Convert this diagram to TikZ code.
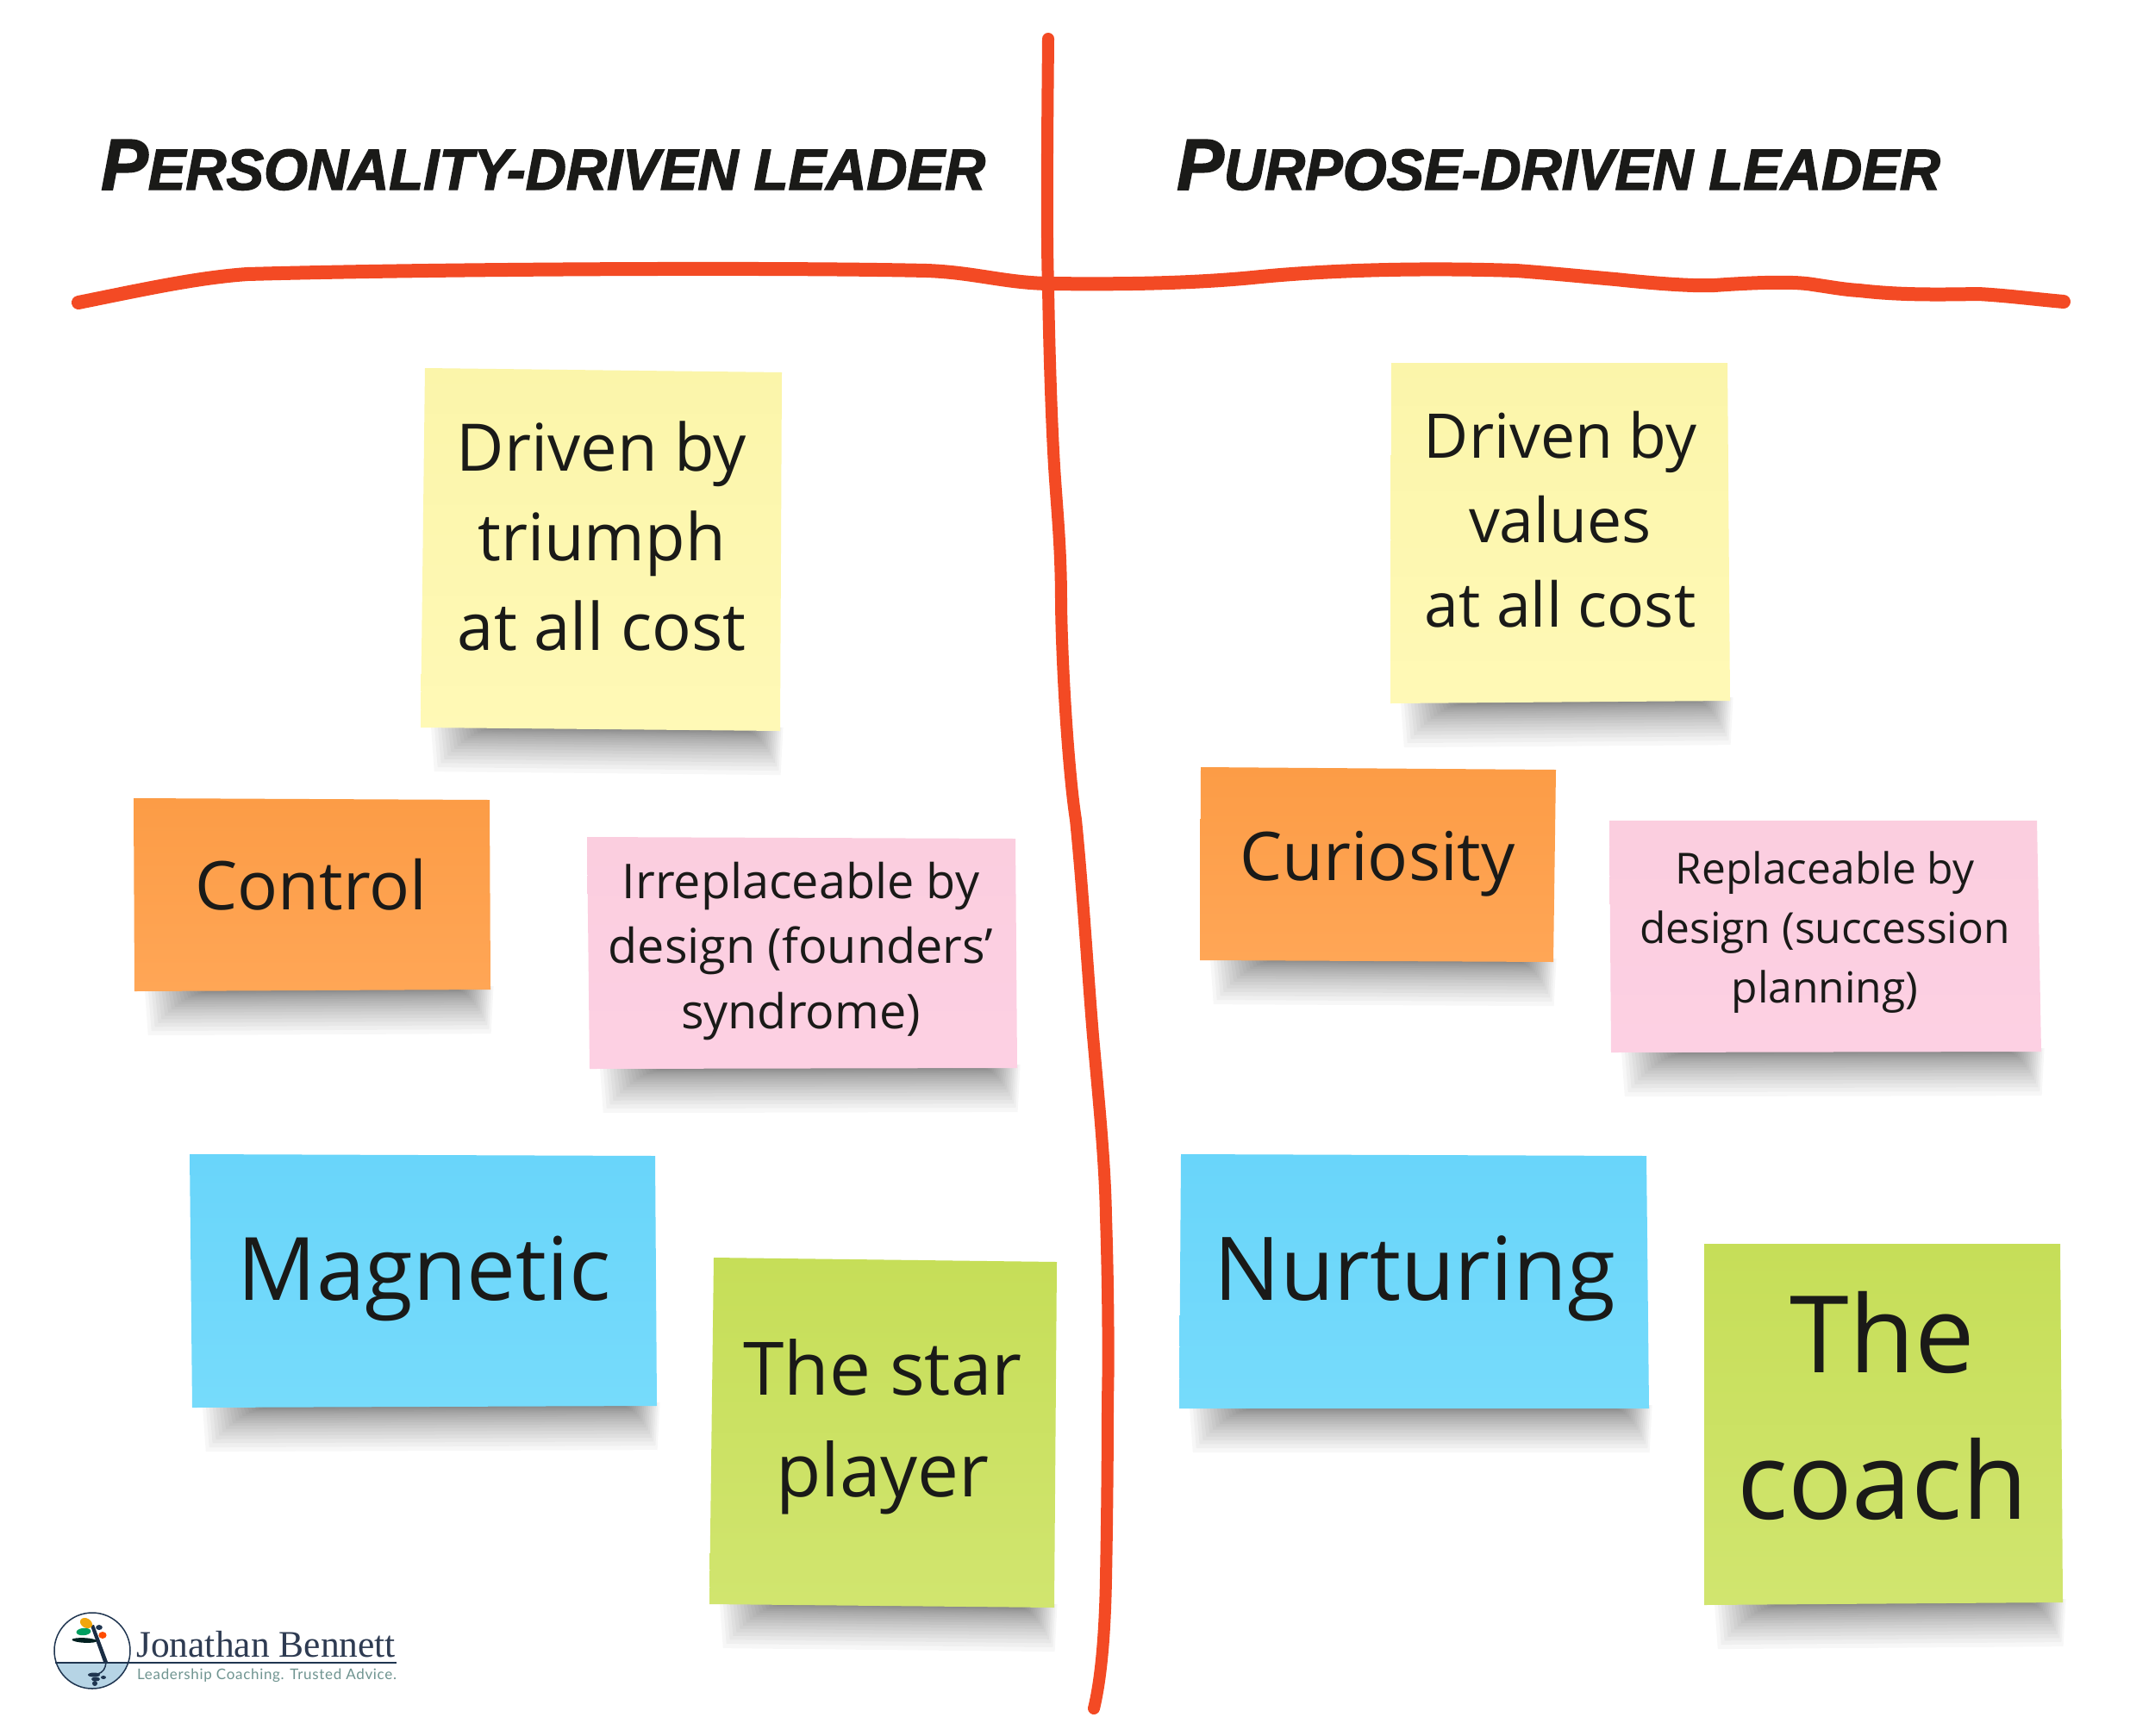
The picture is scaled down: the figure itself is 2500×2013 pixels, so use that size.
\documentclass[tikz,border=0pt]{standalone}
\usepackage{fontspec}
\setmainfont{Open Sans}
\newfontfamily\titlefont[FakeStretch=0.975,FakeBold=2]{Liberation Sans Bold Italic}
\newfontfamily\logoserif{Liberation Serif}
\newfontfamily\logosans[LetterSpace=4]{Lato}
\usetikzlibrary{calc}
\definecolor{redline}{HTML}{F34A24}
\definecolor{ink}{HTML}{1A1A18}
\definecolor{yelT}{HTML}{FBF5AA}\definecolor{yelB}{HTML}{FFF9B6}
\definecolor{oraT}{HTML}{FC9C46}\definecolor{oraB}{HTML}{FFA656}
\definecolor{pinT}{HTML}{FBCEDF}\definecolor{pinB}{HTML}{FDD0E3}
\definecolor{bluT}{HTML}{69D5FA}\definecolor{bluB}{HTML}{76DBFB}
\definecolor{griT}{HTML}{C6DE58}\definecolor{griB}{HTML}{D1E56F}
\definecolor{logoNavy}{HTML}{1F3550}
\definecolor{logoText}{HTML}{2E3B52}
\definecolor{logoSub}{HTML}{6F9490}
\definecolor{logoWater}{HTML}{B6D4E5}
\tikzset{
  pen/.style={draw=redline,line width=#1,line cap=round,line join=round},
  pen/.default=16pt,
  heading/.style={anchor=base west,inner sep=0pt,text=ink},
  notetext/.style={anchor=base,inner sep=0pt,align=center,text=ink},
  soft/.style={fill=black,fill opacity=0.032,draw=none}
}
\newcommand{\fs}[2]{\fontsize{#1}{#2}\selectfont}
% name, tl, tr, br, bl, colour stem, x and last baseline, font, text
\newcommand{\stickynote}[9]{%
  \coordinate (#1tl) at (#2);\coordinate (#1tr) at (#3);
  \coordinate (#1br) at (#4);\coordinate (#1bl) at (#5);
  \foreach \i in {1,...,18}{%
    \pgfmathsetmacro{\dd}{0.5*\i+0.13*\i*\i}
    \pgfmathsetmacro{\lft}{82-3.9*\i}
    \pgfmathsetmacro{\rgt}{36-2.2*\i}
    \path[soft] ($(#1bl)+(\lft,-4)$) -- ($(#1br)+(-\rgt,-4)$) -- ($(#1br)+(-\rgt-3,\dd)$) -- ($(#1bl)+(\lft+4,\dd)$) -- cycle;
  }
  \path[top color=#6T,bottom color=#6B] (#1tl) -- (#1tr) -- (#1br) -- (#1bl) -- cycle;
  \node[notetext,font=#8] (#1text) at (#7) {#9};%
}
\begin{document}
\begin{tikzpicture}[x=1pt,y=-1pt]
\useasboundingbox (0,0) rectangle (2500,2013);
\fill[white] (0,0) rectangle (2500,2013);

% red cross
\coordinate (hL) at (91,351);
\coordinate (hR) at (2394,350);
\coordinate (vT) at (1216,45);
\coordinate (vB) at (1269,1982);
\draw[pen] (hL) .. controls (170,335) and (230,322) .. (287,318)
  .. controls (500,312) and (900,310) .. (1075,314)
  .. controls (1130,316) and (1165,328) .. (1216,329)
  .. controls (1300,330) and (1380,329) .. (1453,322)
  .. controls (1530,314) and (1640,310) .. (1759,314)
  .. controls (1800,317) and (1850,322) .. (1874,324)
  .. controls (1930,330) and (1970,332) .. (1989,331)
  .. controls (2030,328) and (2080,326) .. (2103,330)
  .. controls (2130,334) and (2140,336) .. (2157,337)
  .. controls (2200,342) and (2240,342) .. (2295,341)
  .. controls (2330,343) and (2360,347) .. (hR);
\draw[pen=14pt] (vT) .. controls (1215,150) and (1214,280) .. (1216,332)
  .. controls (1217,400) and (1220,500) .. (1224,556)
  .. controls (1227,600) and (1231,640) .. (1231,700)
  .. controls (1232,780) and (1240,900) .. (1248,951)
  .. controls (1256,1030) and (1262,1130) .. (1268,1202)
  .. controls (1275,1280) and (1282,1350) .. (1283,1412)
  .. controls (1286,1500) and (1286,1600) .. (1285,1621)
  .. controls (1285,1700) and (1284,1780) .. (1283,1831)
  .. controls (1282,1890) and (1278,1945) .. (vB);

% headings
\node[heading] (leftHead) at (117,220) {\titlefont\fs{84}{84}P\fs{67}{67}ERSONALITY-DRIVEN LEADER};
\node[heading] (rightHead) at (1365,220) {\titlefont\fs{84}{84}P\fs{67}{67}URPOSE-DRIVEN LEADER};

% notes
\stickynote{yA}{493,427}{907,432}{905,848}{488,844}{yel}{698,754}{\fs{76}{104}}{Driven by\\triumph\\at all cost}
\stickynote{yB}{1614,421}{2004,421}{2007,813}{1613,816}{yel}{1810,727}{\fs{71.5}{98}}{Driven by\\values\\at all cost}
\stickynote{oA}{155,926}{568,928}{569,1148}{156,1150}{ora}{361,1055}{\fs{78}{78}}{Control}
\stickynote{oB}{1393,890}{1805,893}{1802,1116}{1392,1114}{ora}{1598,1021}{\fs{78}{78}}{Curiosity}
\stickynote{pA}{681,971}{1178,973}{1180,1239}{684,1240}{pin}{929,1193}{\fs{55.7}{75.5}}{Irreplaceable by\\design (founders’\\syndrome)}
\stickynote{pB}{1867,952}{2363,952}{2368,1220}{1869,1221}{pin}{2117,1163}{\fs{49.7}{69}}{Replaceable by\\design (succession\\planning)}
\stickynote{bA}{220,1339}{760,1341}{762,1631}{223,1633}{blu}{492,1508}{\fs{101.5}{100}}{Magnetic}
\stickynote{bB}{1370,1339}{1910,1341}{1913,1634}{1368,1634}{blu}{1641,1508}{\fs{102}{100}}{Nurturing}
\stickynote{gA}{828,1459}{1226,1464}{1223,1865}{823,1861}{gri}{1024,1736}{\fs{85.5}{118}}{The star\\player}
\stickynote{gB}{1977,1443}{2390,1443}{2393,1859}{1977,1862}{gri}{2184,1762}{\fs{124}{170}}{The\\coach}

% logo
\begin{scope}
\clip (107,1915) circle (44);
\fill[logoWater] (60,1929) rectangle (155,1965);
\end{scope}
\node[circle,draw=logoNavy,line width=1.5pt,minimum size=88pt,inner sep=0pt] (logoRing) at (107,1915) {};
\coordinate (logoRule) at (460,1929);
\draw[logoNavy,line width=1.5pt] (64,1929) -- (logoRule);
\fill[logoNavy!85!black] (105,1886) -- (109,1885) -- (125,1928) -- (120,1928) -- cycle;
\draw[logoNavy,line width=1.5pt] (123,1929) .. controls (122,1936) and (120,1940) .. (113,1942);
\fill[rotate around={-30:(100,1883)},fill=black!0!orange!70!brown!70!yellow] (100,1883) ellipse (7.5 and 5.5);
\fill[rotate around={5:(97,1893)},fill=teal!75!green] (97,1893) ellipse (8.5 and 4.2);
\fill[rotate around={-3:(98,1903)},fill=black!75!teal] (98,1903) ellipse (14.5 and 2.8);
\fill[logoNavy] (115,1888) ellipse (3.8 and 3);
\fill[orange!60!red] (119,1897) ellipse (4.6 and 4);
\fill[logoNavy] (109,1943) ellipse (7 and 2.5);
\fill[logoNavy] (111,1948) ellipse (5 and 2.5);
\fill[logoNavy] (110,1953) ellipse (3 and 3);
\fill[logoNavy] (120,1946) ellipse (3 and 2);
\node[heading,text=logoText] (logoName) at (158,1922) {\logoserif\fs{43.5}{43.5}Jonathan Bennett};
\node[heading,text=logoSub] (logoTag) at (159,1948) {\logosans\fs{17}{17}Leadership Coaching. Trusted Advice.};
\end{tikzpicture}
\end{document}
